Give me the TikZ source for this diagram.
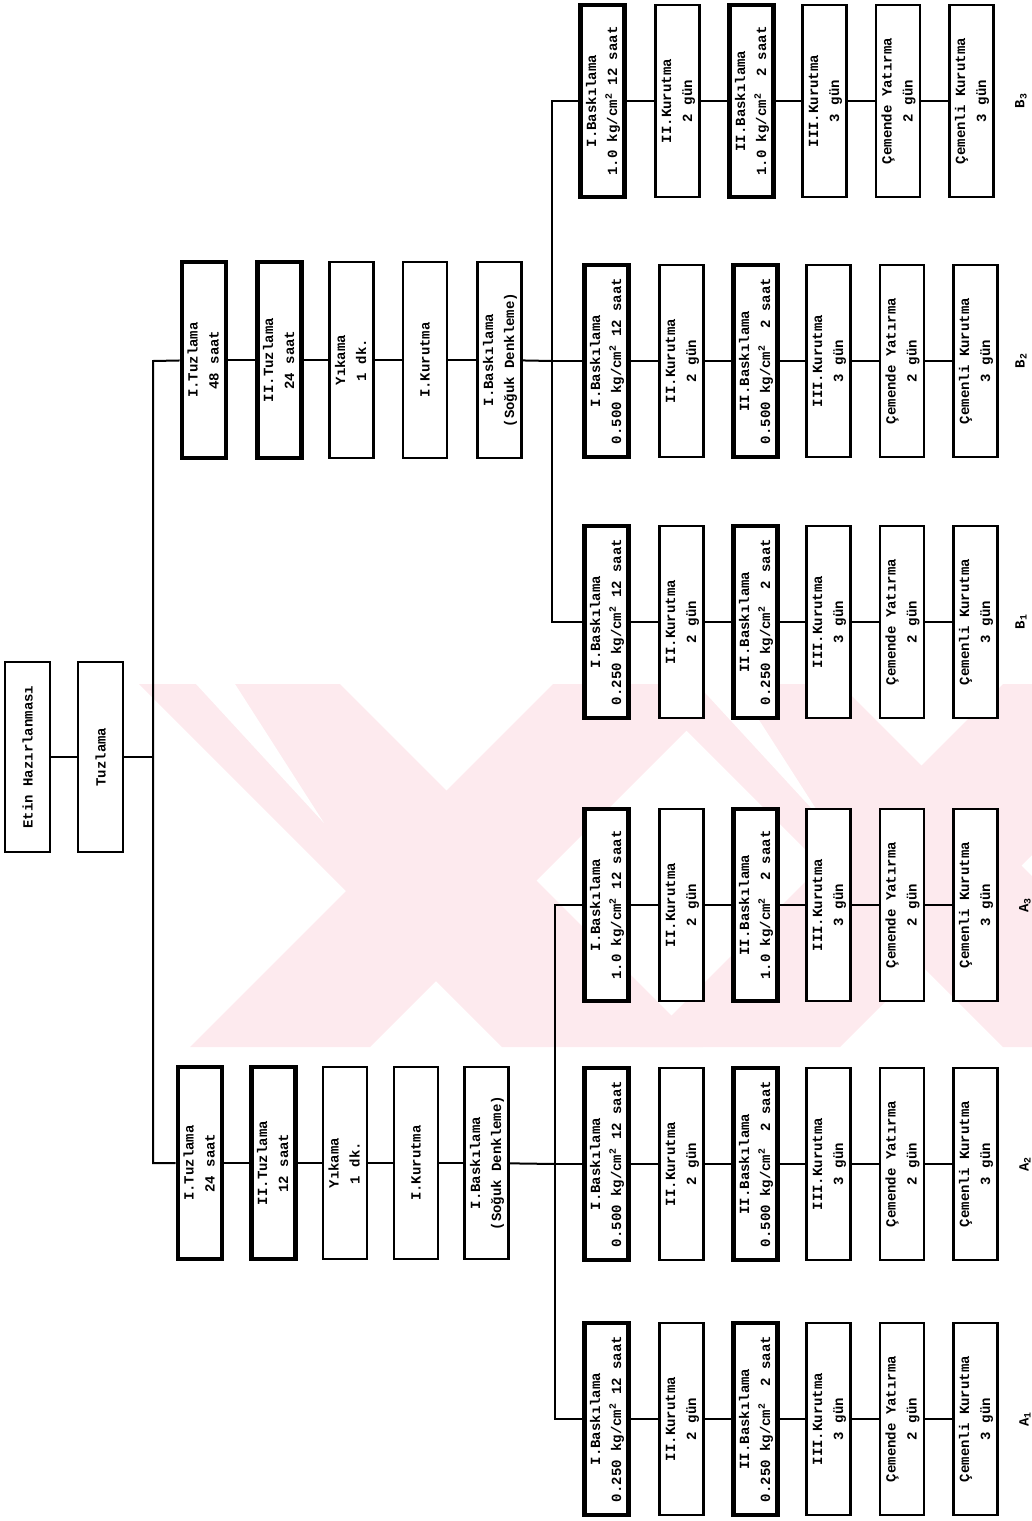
\documentclass[tikz,border=0pt]{standalone}
\usepackage{fontspec}
\newfontfamily\tw{Liberation Mono}
\newcommand\twol[2]{\rotatebox{90}{\begin{tabular}{@{}c@{}}#1\\#2\end{tabular}}}
\newcommand\onel[1]{\rotatebox{90}{#1}}
\newcommand\sq{\textsuperscript{2}}
\definecolor{wmpink}{RGB}{253,234,238}
\tikzset{
  box/.style={draw, line width=2.2pt, fill=white, minimum width=44pt, minimum height=192pt,
    inner sep=0pt, font=\tw\bfseries\fontsize{14}{21}\selectfont},
  boldbox/.style={box, line width=4.6pt},
  conn/.style={line width=2pt},
  lab/.style={font=\tw\bfseries\fontsize{14}{16}\selectfont, inner sep=0pt},
}
\begin{document}
\begin{tikzpicture}[x=1pt,y=-1pt]
\useasboundingbox (0,0) rectangle (1032,1521);
% watermark (pale diagonal bands)
\begin{scope}
\clip (100,684) rectangle (1032,1047);
\fill[wmpink] (139,684) -- (340,684) -- (703,1047) -- (502,1047) -- cycle;
\fill[wmpink] (190,1047) -- (370,1047) -- (733,684) -- (553,684) -- cycle;
\fill[wmpink] (640,684) -- (840,684) -- (1203,1047) -- (1003,1047) -- cycle;
\fill[wmpink] (640,1047) -- (840,1047) -- (1203,684) -- (1003,684) -- cycle;
\fill[white] (196,684) -- (235,684) -- (324,823) -- cycle;
\fill[white] (697,684) -- (736,684) -- (825,823) -- cycle;
\end{scope}
% top
\node[box, minimum height=190pt, minimum width=45pt] (etin) at (27.5,757) {\onel{Etin Hazırlanması}};
\node[box, minimum height=190pt, minimum width=45pt] (tuz) at (100.5,757) {\onel{Tuzlama}};
\coordinate (tl1) at (153,361);
\coordinate (tl2) at (153,1163);
\coordinate (tlm) at (153,757);
% upper middle row (48 saat)
\node[boldbox, minimum height=196pt] (u1) at (204,360) {\twol{I.Tuzlama}{48 saat}};
\node[boldbox, minimum height=196pt] (u2) at (279.5,360) {\twol{II.Tuzlama}{24 saat}};
\node[box, minimum height=196pt] (u3) at (351.5,360) {\twol{Yıkama}{1 dk.}};
\node[box, minimum height=196pt] (u4) at (425,360) {\onel{I.Kurutma}};
\node[box, minimum height=196pt] (u5) at (499.5,360) {\twol{I.Baskılama}{(Soğuk Denkleme)}};
% lower middle row (24 saat)
\node[boldbox] (l1) at (200,1163) {\twol{I.Tuzlama}{24 saat}};
\node[boldbox] (l2) at (273.5,1163) {\twol{II.Tuzlama}{12 saat}};
\node[box] (l3) at (345,1163) {\twol{Yıkama}{1 dk.}};
\node[box] (l4) at (416,1163) {\onel{I.Kurutma}};
\node[box] (l5) at (486.5,1163) {\twol{I.Baskılama}{(Soğuk Denkleme)}};
% trunks
\coordinate (tb1) at (552,101);
\coordinate (tb2) at (552,361);
\coordinate (tb3) at (552,622);
\coordinate (ta3) at (555,905);
\coordinate (ta2) at (555,1164);
\coordinate (ta1) at (555,1419);
% right columns
\foreach \nm/\yy/\p/\dx in {b3/101/1.0/-4, b2/361/0.500/0, b1/622/0.250/0, a3/905/1.0/0, a2/1164/0.500/0, a1/1419/0.250/0}{
  \node[boldbox] (\nm1) at (606.5+\dx,\yy) {\twol{I.Baskılama}{\p\ kg/cm\sq\ 12 saat}};
  \node[box] (\nm2) at (681.5+\dx,\yy) {\twol{II.Kurutma}{2 gün}};
  \node[boldbox] (\nm3) at (755.5+\dx,\yy) {\twol{II.Baskılama}{\p\ kg/cm\sq\ \ 2 saat}};
  \node[box] (\nm4) at (828.5+\dx,\yy) {\twol{III.Kurutma}{3 gün}};
  \node[box] (\nm5) at (902+\dx,\yy) {\twol{Çemende Yatırma}{2 gün}};
  \node[box] (\nm6) at (975.5+\dx,\yy) {\twol{Çemenli Kurutma}{3 gün}};
  \draw[conn] (\nm1) -- (\nm2) -- (\nm3) -- (\nm4) -- (\nm5) -- (\nm6);
}
\node[lab] (la1) at (1025,1419) {\onel{A\textsubscript{1}}};
\node[lab] (la2) at (1025,1164) {\onel{A\textsubscript{2}}};
\node[lab] (la3) at (1025,905) {\onel{A\textsubscript{3}}};
\node[lab] (lb1) at (1021,622) {\onel{B\textsubscript{1}}};
\node[lab] (lb2) at (1021,361) {\onel{B\textsubscript{2}}};
\node[lab] (lb3) at (1021,101) {\onel{B\textsubscript{3}}};
% connectors
\draw[conn] (etin) -- (tuz);
\draw[conn] (tuz) -- (tlm);
\draw[conn] (u1) -- (tl1) -- (tl2) -- (l1);
\draw[conn] (u1) -- (u2) -- (u3) -- (u4) -- (u5);
\draw[conn] (l1) -- (l2) -- (l3) -- (l4) -- (l5);
\draw[conn] (u5) -- (tb2);
\draw[conn] (l5) -- (ta2);
\draw[conn] (b31) -- (tb1) -- (tb3) -- (b11);
\draw[conn] (tb2) -- (b21);
\draw[conn] (a31) -- (ta3) -- (ta1) -- (a11);
\draw[conn] (ta2) -- (a21);
\end{tikzpicture}
\end{document}
